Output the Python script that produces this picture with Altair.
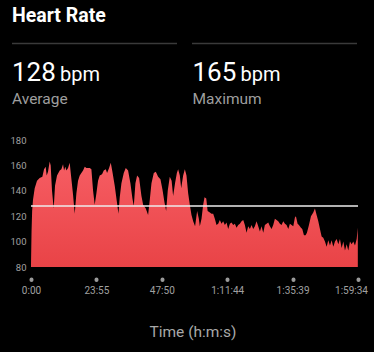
import altair as alt
import pandas as pd

# --- data ---------------------------------------------------------------
time_s = [0, 12, 25, 44, 81, 132, 190, 249, 286, 322, 344, 373, 410, 432, 461, 498,
          527, 571, 630, 666, 703, 725, 754, 776, 813, 849, 878, 922, 959, 996, 1032,
          1069, 1105, 1142, 1179, 1215, 1288, 1325, 1362, 1398, 1435, 1471, 1508, 1559,
          1596, 1640, 1669, 1713, 1750, 1786, 1837, 1889, 1918, 1947, 1984, 2035, 2079,
          2130, 2181, 2225, 2255, 2291, 2328, 2372, 2423, 2460, 2518, 2569, 2606, 2643,
          2694, 2738, 2789, 2840, 2884, 2928, 2965, 3000, 3045, 3085, 3118, 3160, 3200,
          3228, 3265, 3295, 3338, 3375, 3411, 3448, 3484, 3521, 3558, 3600, 3645, 3682,
          3704, 3741, 3777, 3807, 3845, 3875, 3924, 3960, 3997, 4033, 4070, 4107, 4143,
          4180, 4216, 4253, 4290, 4326, 4363, 4399, 4436, 4473, 4509, 4546, 4582, 4619,
          4656, 4692, 4729, 4765, 4802, 4839, 4875, 4912, 4948, 4985, 5022, 5058, 5095,
          5131, 5168, 5205, 5241, 5278, 5314, 5351, 5388, 5424, 5461, 5497, 5534, 5571,
          5607, 5644, 5680, 5717, 5754, 5790, 5812, 5849, 5878, 5922, 5951, 5988, 6024,
          6054, 6098, 6142, 6193, 6229, 6266, 6303, 6339, 6376, 6412, 6449, 6486, 6522,
          6559, 6595, 6632, 6669, 6705, 6742, 6778, 6815, 6852, 6888, 6925, 6961, 6998,
          7035, 7071, 7108, 7145, 7170]
bpm = [82, 108, 124, 133, 142, 148, 150, 151, 157, 159, 152, 155, 163, 160, 140, 126,
       144, 152, 156, 157, 161, 156, 159, 156, 158, 162, 152, 137, 122, 138, 148,
       152, 154, 156, 159, 158, 158, 157, 140, 129, 138, 148, 152, 153,
       156, 157, 154, 158, 162, 155, 144, 130, 122, 135, 146, 154, 158,
       156, 146, 134, 128, 146, 152, 150, 136, 129, 126, 121, 133, 146,
       154, 155, 151, 149, 141, 131, 124, 140, 151, 148, 136, 146, 154,
       157, 152, 142, 152, 157, 152, 138, 129, 121, 116, 112, 124, 118,
       112, 118, 129, 135, 134, 124, 123, 122, 122, 118, 113, 114, 117,
       114, 116, 113, 115, 110, 114, 115, 113, 114, 111, 113, 114, 116,
       117, 113, 107, 112, 110, 113, 110, 112, 116, 112, 108, 112, 107,
       113, 114, 115, 112, 110, 113, 118, 117, 116, 114, 113, 116, 114,
       113, 110, 114, 113, 112, 119, 120, 114, 113, 111, 110, 105, 105,
       107, 113, 120, 123, 126, 121, 116, 110, 104, 103, 100, 96, 101,
       97, 101, 96, 100, 102, 98, 102, 95, 100, 93, 98, 93, 100,
       98, 100, 97, 102, 111]

average_bpm = 128
maximum_bpm = 165
title_text = "Heart Rate"
unit_text = "bpm"
stat_names = ["Average", "Maximum"]
x_title = "Time (h:m:s)"

y_ticks = [80, 100, 120, 140, 160, 180]
x_tick_values = [0, 1435, 2870, 4304, 5739, 7174]
x_tick_labels = ["0:00", "23:55", "47:50", "1:11:44", "1:35:39", "1:59:34"]

df = pd.DataFrame({"t": time_s, "bpm": bpm})
one = pd.DataFrame({"k": [0]})

W, H = 327, 127
label_expr = "{}[indexof({}, datum.value)]".format(
    "[" + ",".join("'%s'" % s for s in x_tick_labels) + "]",
    "[" + ",".join(str(v) for v in x_tick_values) + "]",
)

x_enc = alt.X(
    "t:Q",
    scale=alt.Scale(domain=[0, x_tick_values[-1]], nice=False, zero=False),
    axis=alt.Axis(
        values=x_tick_values,
        labelExpr=label_expr,
        title=None,
        domain=False,
        grid=False,
        offset=12,
        tickSize=0.5,
        tickWidth=4,
        tickCap="round",
        tickColor="#9a9a9a",
        labelColor="#a0a0a0",
        labelFontSize=10,
        labelPadding=6,
        labelFlush=False,
        labelOverlap=False,
        labelOffset={"condition": {"test": "datum.value == %d" % x_tick_values[-1], "value": -7}, "value": 0},
    ),
)
y_scale = alt.Scale(domain=[80, 180], nice=False, zero=False)
y_axis = alt.Axis(
    values=y_ticks,
    title=None,
    domain=False,
    grid=False,
    ticks=False,
    labelOverlap=False,
    labelFlush=False,
    labelColor="#a0a0a0",
    labelFontSize=9.5,
    labelPadding=5,
)
y_enc = alt.Y("bpm:Q", scale=y_scale, axis=y_axis)

area = alt.Chart(df).mark_area(
    interpolate="linear",
    clip=True,
    color=alt.Gradient(
        gradient="linear",
        stops=[alt.GradientStop(color="#f65d63", offset=0),
               alt.GradientStop(color="#dc2a2b", offset=1)],
        x1=0, x2=0, y1=0, y2=1,
    ),
).encode(x=x_enc, y=y_enc)

avg_df = pd.DataFrame({"bpm": [average_bpm]})
avg_rule = alt.Chart(avg_df).mark_rule(color="#ececec", strokeWidth=1.5).encode(
    y=alt.Y("bpm:Q", scale=y_scale, axis=y_axis))


def txt(text, x, y, size, color, weight="normal", align="left"):
    return alt.Chart(one).mark_text(
        align=align, baseline="alphabetic", fontSize=size, color=color,
        fontWeight=weight, font="Roboto",
    ).encode(x=alt.value(x), y=alt.value(y), text=alt.value(text))


def hline(x1, x2, y):
    return alt.Chart(one).mark_rule(color="#3a3a3a", strokeWidth=1.3).encode(
        x=alt.value(x1), x2=alt.value(x2), y=alt.value(y))


layers = [
    area,
    avg_rule,
    txt(title_text, -19, -118.5, 19.5, "#ffffff", weight="bold"),
    hline(-19, 146, -96.5),
    hline(161, 326, -96.5),
    txt(str(average_bpm), -19, -59.5, 26, "#ffffff"),
    txt(unit_text, 29, -59.5, 20, "#ffffff"),
    txt(stat_names[0], -19, -36.5, 15.5, "#9e9e9e"),
    txt(str(maximum_bpm), 161.5, -59.5, 26, "#ffffff"),
    txt(unit_text, 209.5, -59.5, 20, "#ffffff"),
    txt(stat_names[1], 161.5, -36.5, 15.5, "#9e9e9e"),
    txt(x_title, 162, 196.5, 15.5, "#a8a8a8", align="center"),
]

chart = alt.layer(*layers).properties(
    width=W,
    height=H,
    padding={"left": 31, "top": 140, "right": 16, "bottom": 85},
    autosize=alt.AutoSizeParams(type="none"),
    background="#000000",
).configure(
    font="Roboto",
    view=alt.ViewConfig(strokeWidth=0, stroke=None),
    axis=alt.AxisConfig(labelOverlap=False),
)

chart.save("out.html", embed_options={"renderer": "svg", "actions": False})
